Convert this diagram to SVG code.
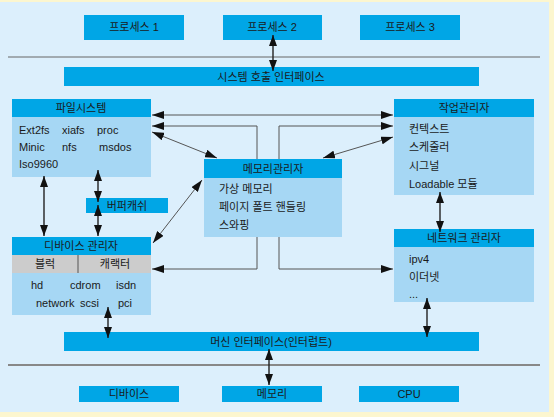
<svg xmlns="http://www.w3.org/2000/svg" width="554" height="417" viewBox="0 0 554 417">
<style>
text{font-family:"Liberation Sans","Noto Sans CJK KR",sans-serif;font-size:11px;fill:#1a1a1a}
.c{text-anchor:middle}
.hd{fill:#00a6e6}
.bd{fill:#a6d7f4}
.gr{fill:#cccccc}
.ln{fill:none;stroke:#555;stroke-width:1}
.vl{fill:none;stroke:#222;stroke-width:1.4}
</style>
<defs>
<marker id="ah" viewBox="0 0 10 10" refX="10" refY="5" markerWidth="12" markerHeight="8" orient="auto-start-reverse" markerUnits="userSpaceOnUse" preserveAspectRatio="none">
<path d="M0,0 L10,5 L0,10 z" fill="#111"/>
</marker>
<marker id="av" viewBox="0 0 10 10" refX="10" refY="5" markerWidth="11" markerHeight="8" orient="auto-start-reverse" markerUnits="userSpaceOnUse" preserveAspectRatio="none">
<path d="M0,0 L10,5 L0,10 z" fill="#111"/>
</marker>
</defs>
<rect x="0" y="0" width="554" height="417" fill="#fcf6cf"/>
<rect x="0" y="2" width="549" height="410" fill="#dceffc"/>
<line x1="8" y1="57" x2="540" y2="57" stroke="#666" stroke-width="1"/>
<line x1="8" y1="365" x2="540" y2="365" stroke="#888" stroke-width="2"/>

<g id="p1"><rect class="hd" x="84" y="15" width="100" height="25"/><text class="c" x="134" y="31">프로세스 1</text></g>
<g id="p2"><rect class="hd" x="223" y="15" width="99" height="25"/><text class="c" x="272" y="31">프로세스 2</text></g>
<g id="p3"><rect class="hd" x="360" y="15" width="100" height="25"/><text class="c" x="410" y="31">프로세스 3</text></g>
<g id="syscall"><rect class="hd" x="64" y="67" width="415" height="19"/><text class="c" x="271" y="81">시스템 호출 인터페이스</text></g>

<g id="fs">
<rect class="hd" x="12" y="99" width="139" height="18"/><rect class="bd" x="12" y="117" width="139" height="60"/>
<text class="c" x="81" y="112">파일시스템</text>
<text x="19" y="134">Ext2fs</text><text x="62" y="134">xiafs</text><text x="97" y="134">proc</text>
<text x="19" y="151">Minic</text><text x="62" y="151">nfs</text><text x="99" y="151">msdos</text>
<text x="19" y="168">Iso9960</text>
</g>

<g id="task">
<rect class="hd" x="394" y="99" width="140" height="18"/><rect class="bd" x="394" y="117" width="140" height="78"/>
<text class="c" x="464" y="112">작업관리자</text>
<text x="409" y="133">컨텍스트</text>
<text x="409" y="151">스케줄러</text>
<text x="409" y="170">시그널</text>
<text x="409" y="188">Loadable 모듈</text>
</g>

<g id="mem">
<rect class="hd" x="204" y="159" width="138" height="19"/><rect class="bd" x="204" y="178" width="138" height="59"/>
<text class="c" x="273" y="173">메모리관리자</text>
<text x="219" y="193">가상 메모리</text>
<text x="219" y="211">페이지 폴트 핸들링</text>
<text x="219" y="229">스와핑</text>
</g>

<g id="buf"><rect class="hd" x="86" y="198" width="82" height="15"/><text class="c" x="127" y="210">버퍼캐쉬</text></g>

<g id="dev">
<rect class="hd" x="12" y="237" width="139" height="18"/>
<rect class="gr" x="12" y="255" width="139" height="18"/>
<line x1="78" y1="255" x2="78" y2="273" stroke="#555" stroke-width="1"/>
<rect class="bd" x="12" y="273" width="139" height="42"/>
<text class="c" x="81" y="250">디바이스 관리자</text>
<text class="c" x="45" y="268">블럭</text><text class="c" x="115" y="268">캐랙터</text>
<text x="31" y="289">hd</text><text x="70" y="289">cdrom</text><text x="116" y="289">isdn</text>
<text x="36" y="307">network</text><text x="80" y="307">scsi</text><text x="118" y="307">pci</text>
</g>

<g id="net">
<rect class="hd" x="394" y="229" width="140" height="18"/><rect class="bd" x="394" y="247" width="140" height="55"/>
<text class="c" x="464" y="242">네트워크 관리자</text>
<text x="409" y="263">ipv4</text>
<text x="409" y="281">이더넷</text>
<text x="409" y="298">...</text>
</g>

<g id="machine"><rect class="hd" x="64" y="332" width="415" height="19"/><text class="c" x="271" y="346">머신 인터페이스(인터럽트)</text></g>

<g id="b1"><rect class="hd" x="79" y="386" width="100" height="16"/><text class="c" x="129" y="398">디바이스</text></g>
<g id="b2"><rect class="hd" x="222" y="386" width="100" height="16"/><text class="c" x="272" y="398">메모리</text></g>
<g id="b3"><rect class="hd" x="359" y="386" width="100" height="16"/><text class="c" x="409" y="398">CPU</text></g>

<g id="connectors">
<line class="vl" x1="273" y1="35" x2="273" y2="71" marker-start="url(#av)" marker-end="url(#av)"/>
<line class="ln" x1="152" y1="115" x2="393" y2="115" marker-start="url(#ah)" marker-end="url(#ah)"/>
<polyline class="ln" points="257,159 257,126 152,126" marker-end="url(#ah)"/>
<polyline class="ln" points="279,159 279,126 393,126" marker-end="url(#ah)"/>
<line class="ln" x1="152" y1="132" x2="217" y2="158" marker-start="url(#ah)" marker-end="url(#ah)"/>
<line class="ln" x1="393" y1="137" x2="323" y2="158" marker-start="url(#ah)" marker-end="url(#ah)"/>
<line class="ln" x1="202" y1="180" x2="153" y2="243" marker-start="url(#ah)" marker-end="url(#ah)"/>
<polyline class="ln" points="257,237 257,269 152,269" marker-end="url(#ah)"/>
<polyline class="ln" points="279,237 279,269 393,269" marker-end="url(#ah)"/>
<line class="vl" x1="44" y1="176" x2="44" y2="236" marker-start="url(#av)" marker-end="url(#av)"/>
<line class="vl" x1="98" y1="170" x2="98" y2="202" marker-start="url(#av)" marker-end="url(#av)"/>
<line class="vl" x1="98" y1="205" x2="98" y2="236" marker-start="url(#av)" marker-end="url(#av)"/>
<line class="vl" x1="440" y1="192" x2="440" y2="232" marker-start="url(#av)" marker-end="url(#av)"/>
<line class="vl" x1="427" y1="298" x2="427" y2="337" marker-start="url(#av)" marker-end="url(#av)"/>
<line class="vl" x1="108" y1="307" x2="108" y2="338" marker-start="url(#av)" marker-end="url(#av)"/>
<line class="vl" x1="269" y1="349" x2="269" y2="385" marker-start="url(#av)" marker-end="url(#av)"/>
</g>
</svg>
